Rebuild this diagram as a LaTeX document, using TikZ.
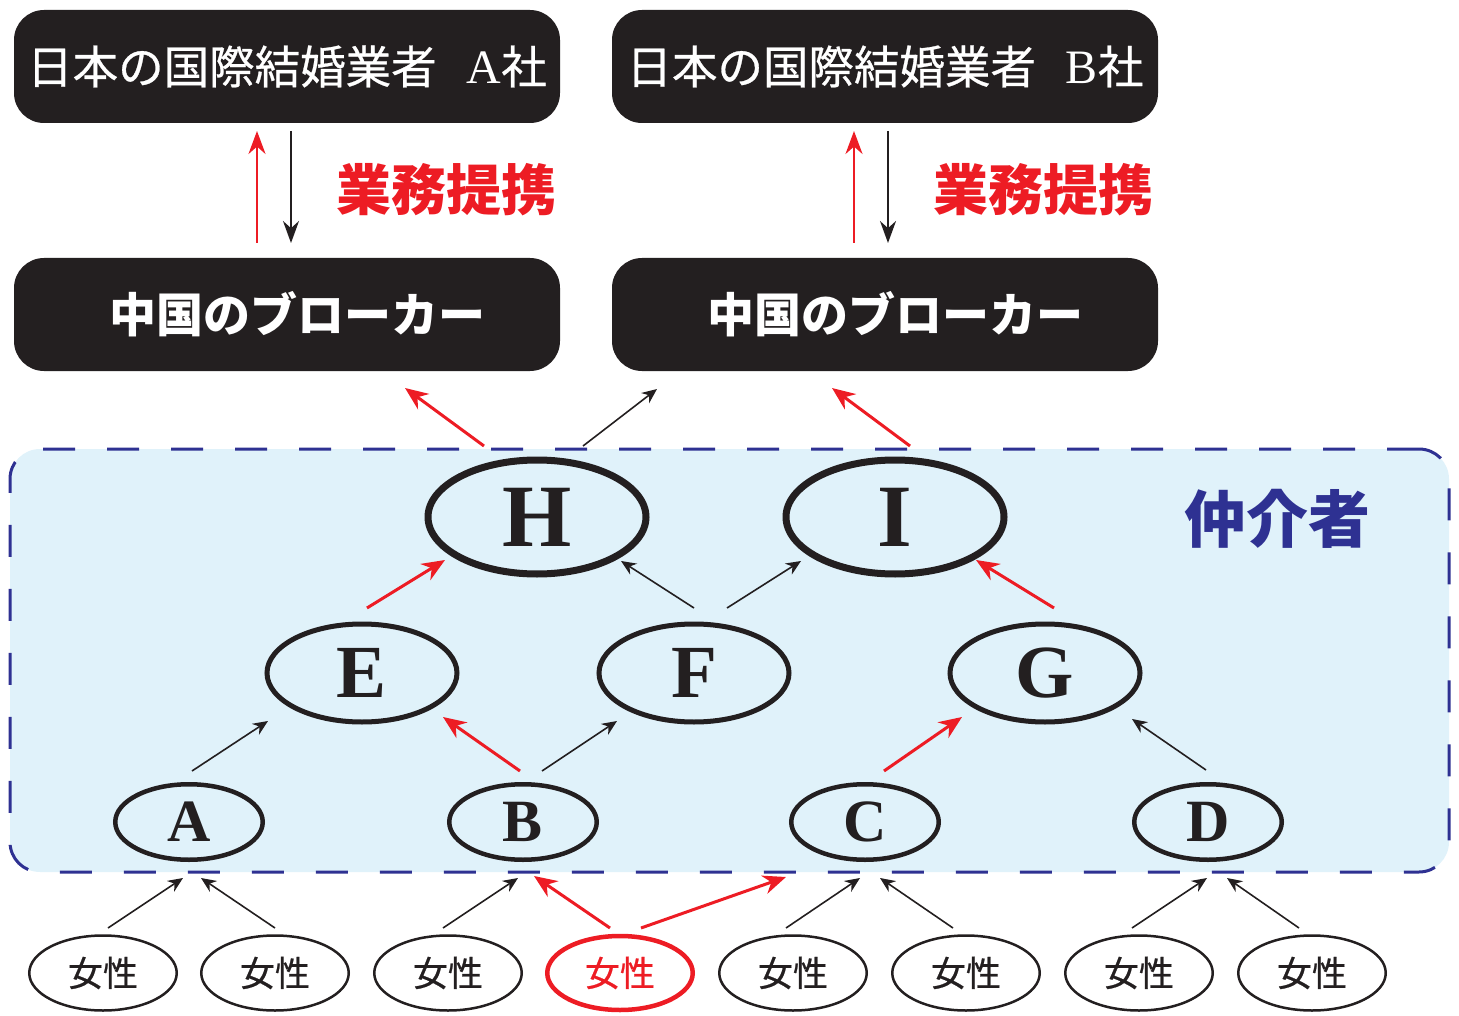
\documentclass[tikz,border=0pt]{standalone}
\usepackage{fontspec}
\setmainfont{Liberation Serif}
\newfontfamily\cjk{Noto Sans CJK JP}
\newfontfamily\cjkmed[FakeBold=0.6]{Noto Sans CJK JP}
\usetikzlibrary{shapes.geometric,arrows.meta}
\definecolor{boxdark}{HTML}{231F20}
\definecolor{myred}{HTML}{ED1C24}
\definecolor{navy}{HTML}{2E3192}
\definecolor{lightblue}{HTML}{E0F2FA}
\begin{document}
\begin{tikzpicture}[x=1pt,y=-1pt,
  darkbox/.style={rectangle, rounded corners=30pt, fill=boxdark, minimum width=546pt, minimum height=113pt, inner sep=0pt, text=white},
  toptext/.style={font=\cjkmed\fontsize{45.5}{45.5}\selectfont},
  brokertext/.style={font=\cjk\bfseries\fontsize{47}{47}\selectfont},
  redlabel/.style={text=myred, font=\cjk\bfseries\fontsize{55}{55}\selectfont, inner sep=0pt},
  navylabel/.style={text=navy, font=\cjk\bfseries\fontsize{62}{62}\selectfont, inner sep=0pt},
  mediatorbox/.style={rectangle, rounded corners=30pt, fill=lightblue, draw=navy, line width=3pt, dash pattern=on 32pt off 32pt, minimum width=1439pt, minimum height=423pt, inner sep=0pt},
  bigell/.style={ellipse, draw=boxdark, text=boxdark, line width=7pt, minimum width=218pt, minimum height=114pt, inner sep=0pt, font=\bfseries\fontsize{89}{89}\selectfont},
  midell/.style={ellipse, draw=boxdark, text=boxdark, line width=5pt, minimum width=190pt, minimum height=98pt, inner sep=0pt, font=\bfseries\fontsize{75}{75}\selectfont},
  smallell/.style={ellipse, draw=boxdark, text=boxdark, line width=4.5pt, minimum width=147.5pt, minimum height=75.5pt, inner sep=0pt, font=\bfseries\fontsize{60}{60}\selectfont},
  woman/.style={ellipse, draw=boxdark, text=boxdark, line width=2.5pt, minimum width=147.5pt, minimum height=75pt, inner sep=0pt, font=\cjkmed\fontsize{35}{35}\selectfont},
  redwoman/.style={woman, draw=myred, text=myred, line width=4.5pt, minimum width=145.5pt, minimum height=74pt},
  blackarr/.style={draw=boxdark, line width=1.6pt, -{Stealth[length=15pt,width=13pt]}},
  redarr/.style={draw=myred, line width=3pt, -{Stealth[length=23pt,width=19pt]}},
  vblackarr/.style={draw=boxdark, line width=2pt, -{Stealth[length=22pt,width=16pt]}},
  vredarr/.style={draw=myred, line width=2.5pt, -{Stealth[length=23pt,width=17pt]}}
]
\useasboundingbox (0,0) rectangle (1459,1016);

% top boxes
\node[darkbox, toptext] (JA) at (287,66.5) {日本の国際結婚業者\hspace{30pt}{\rmfamily\fontsize{48}{48}\selectfont A}社};
\node[darkbox, toptext] (JB) at (885,66.5) {日本の国際結婚業者\hspace{30pt}{\rmfamily\fontsize{48}{48}\selectfont B}社};
\node[darkbox, brokertext] (CA) at (287,314.5) {\hspace*{20pt}中国のブローカー};
\node[darkbox, brokertext] (CB) at (885,314.5) {\hspace*{20pt}中国のブローカー};

\node[redlabel] (LA) at (446.5,190) {業務提携};
\node[redlabel] (LB) at (1043.5,190) {業務提携};

% vertical arrows
\coordinate (vA1) at (257,243); \coordinate (vA2) at (257,131);
\coordinate (vA3) at (291,131); \coordinate (vA4) at (291,243);
\coordinate (vB1) at (854,243); \coordinate (vB2) at (854,131);
\coordinate (vB3) at (888,131); \coordinate (vB4) at (888,243);
\draw[vredarr] (vA1) -- (vA2);
\draw[vblackarr] (vA3) -- (vA4);
\draw[vredarr] (vB1) -- (vB2);
\draw[vblackarr] (vB3) -- (vB4);

% mediator region
\node[mediatorbox] (M) at (729.5,660.5) {};
\node[navylabel] (ML) at (1277.5,519) {仲介者};

% mediator nodes
\node[bigell] (H) at (537,517) {H};
\node[bigell] (I) at (895,517) {I};
\node[midell] (E) at (362,673) {E};
\node[midell] (F) at (694,673) {F};
\node[midell] (G) at (1045,673) {G};
\node[smallell] (A) at (189,822) {A};
\node[smallell] (B) at (523,822) {B};
\node[smallell] (C) at (865,822) {C};
\node[smallell] (D) at (1208,822) {D};

% women
\node[woman] (W1) at (103,973) {女性};
\node[woman] (W2) at (275,973) {女性};
\node[woman] (W3) at (448,973) {女性};
\node[redwoman] (W4) at (620,973) {女性};
\node[woman] (W5) at (793,973) {女性};
\node[woman] (W6) at (966,973) {女性};
\node[woman] (W7) at (1139,973) {女性};
\node[woman] (W8) at (1312,973) {女性};

% arrows H/I -> brokers
\coordinate (h1s) at (484,446); \coordinate (h1e) at (405,388);
\coordinate (h2s) at (583,446); \coordinate (h2e) at (657,389);
\coordinate (i1s) at (910,446); \coordinate (i1e) at (832,388);
\draw[redarr] (h1s) -- (h1e);
\draw[blackarr] (h2s) -- (h2e);
\draw[redarr] (i1s) -- (i1e);

% E,F,G -> H,I
\coordinate (eh1) at (367,608); \coordinate (eh2) at (445,560);
\coordinate (fh1) at (694,608); \coordinate (fh2) at (621,561);
\coordinate (fi1) at (727,608); \coordinate (fi2) at (801,561);
\coordinate (gi1) at (1054,608); \coordinate (gi2) at (976,560);
\draw[redarr] (eh1) -- (eh2);
\draw[blackarr] (fh1) -- (fh2);
\draw[blackarr] (fi1) -- (fi2);
\draw[redarr] (gi1) -- (gi2);

% A-D -> E,F,G
\coordinate (ae1) at (192,771); \coordinate (ae2) at (268,721);
\coordinate (be1) at (520,771); \coordinate (be2) at (443,717);
\coordinate (bf1) at (542,771); \coordinate (bf2) at (617,721);
\coordinate (cg1) at (884,771); \coordinate (cg2) at (962,717);
\coordinate (dg1) at (1206,770); \coordinate (dg2) at (1132,719);
\draw[blackarr] (ae1) -- (ae2);
\draw[redarr] (be1) -- (be2);
\draw[blackarr] (bf1) -- (bf2);
\draw[redarr] (cg1) -- (cg2);
\draw[blackarr] (dg1) -- (dg2);

% women -> A-D
\coordinate (w1a) at (108,928); \coordinate (w1b) at (183,878);
\coordinate (w2a) at (275,928); \coordinate (w2b) at (201,878);
\coordinate (w3a) at (443,928); \coordinate (w3b) at (518,878);
\coordinate (w4a) at (610,928); \coordinate (w4b) at (534,876);
\coordinate (w4c) at (641,928); \coordinate (w4d) at (786,877);
\coordinate (w5a) at (786,928); \coordinate (w5b) at (860,878);
\coordinate (w6a) at (953,928); \coordinate (w6b) at (880,878);
\coordinate (w7a) at (1132,928); \coordinate (w7b) at (1207,878);
\coordinate (w8a) at (1299,928); \coordinate (w8b) at (1227,878);
\draw[blackarr] (w1a) -- (w1b);
\draw[blackarr] (w2a) -- (w2b);
\draw[blackarr] (w3a) -- (w3b);
\draw[redarr] (w4a) -- (w4b);
\draw[redarr] (w4c) -- (w4d);
\draw[blackarr] (w5a) -- (w5b);
\draw[blackarr] (w6a) -- (w6b);
\draw[blackarr] (w7a) -- (w7b);
\draw[blackarr] (w8a) -- (w8b);
\end{tikzpicture}
\end{document}
